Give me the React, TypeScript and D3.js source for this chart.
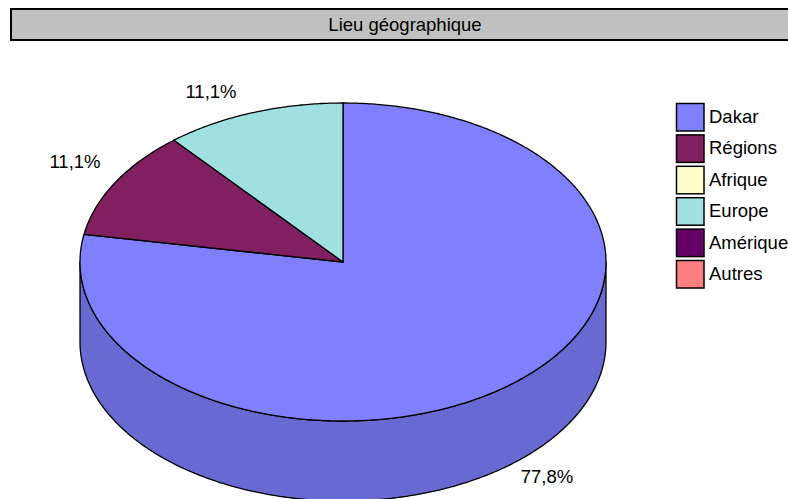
import * as React from "react";
import * as d3 from "d3";

const title = "Lieu géographique";
const categories = ["Dakar", "Régions", "Afrique", "Europe", "Amérique", "Autres"];
const values = [7, 1, 0, 1, 0, 0];
const colors = ["#8080ff", "#802060", "#ffffcc", "#a0e0e0", "#660066", "#ff8080"];

const width = 788;
const height = 499;
const cx = 343;
const cy = 262;
const rx = 263;
const ry = 159;
const depth = 80;
const fontSize = 18.5;

function pt(a: number, dy = 0): [number, number] {
  return [cx + rx * Math.sin(a), cy - ry * Math.cos(a) + dy];
}

function arcPoints(a0: number, a1: number, dy = 0) {
  const n = Math.max(2, Math.ceil(Math.abs(a1 - a0) / 0.01));
  return d3.range(n + 1).map((i) => pt(a0 + ((a1 - a0) * i) / n, dy));
}

const line = d3.line();

export default function App() {
  const pie = d3.pie<number>().sort(null).value((d) => d);
  const arcs = pie(values);
  const total = d3.sum(values);
  const fmt = (v: number) => (Math.round((v / total) * 1000) / 10).toFixed(1).replace(".", ",") + "%";

  // label positions (Excel places them outside)
  const labelPos: Record<number, [number, number]> = {
    0: [547, 483],
    1: [75, 168],
    3: [211, 98],
  };

  const sides: JSX.Element[] = [];
  arcs.forEach((a, i) => {
    if (a.endAngle - a.startAngle <= 0) return;
    const s = Math.max(a.startAngle, Math.PI / 2);
    const e = Math.min(a.endAngle, (3 * Math.PI) / 2);
    if (e <= s) return;
    const pts = [...arcPoints(s, e), ...arcPoints(e, s, depth)];
    sides.push(
      <path
        key={`side-${i}`}
        d={line(pts) + "Z"}
        fill={d3.color(colors[i])!.darker(0.55).formatHex()}
        stroke="#000"
        strokeWidth={1.3}
        strokeLinejoin="round"
      />
    );
  });

  return (
    <svg width={width} height={height} style={{ position: "absolute", left: 0, top: 0, fontFamily: "'Liberation Sans', Arial, sans-serif" }}>
      <rect x={0} y={0} width={width} height={height} fill="#fff" />
      <rect x={11} y={9} width={790} height={31} fill="#c0c0c0" stroke="#000" strokeWidth={2} />
      <text x={405} y={31} textAnchor="middle" fontSize={fontSize} fill="#000">
        {title}
      </text>
      {sides}
      {arcs.map((a, i) => {
        if (a.endAngle - a.startAngle <= 0) return null;
        const pts = [[cx, cy] as [number, number], ...arcPoints(a.startAngle, a.endAngle)];
        return (
          <path
            key={`top-${i}`}
            d={line(pts) + "Z"}
            fill={colors[i]}
            stroke="#000"
            strokeWidth={1.3}
            strokeLinejoin="round"
          />
        );
      })}
      {arcs.map((a, i) =>
        labelPos[i] ? (
          <text key={`lab-${i}`} x={labelPos[i][0]} y={labelPos[i][1]} textAnchor="middle" fontSize={fontSize} fill="#000">
            {fmt(a.value)}
          </text>
        ) : null
      )}
      <g transform="translate(676,103)">
        {categories.map((c, i) => (
          <g key={c} transform={`translate(0,${i * 31.4})`}>
            <rect x={0.5} y={0.5} width={27.5} height={27.5} fill={colors[i]} stroke="#000" strokeWidth={1.5} />
            <text x={33} y={20} fontSize={fontSize} fill="#000">
              {c}
            </text>
          </g>
        ))}
      </g>
    </svg>
  );
}
